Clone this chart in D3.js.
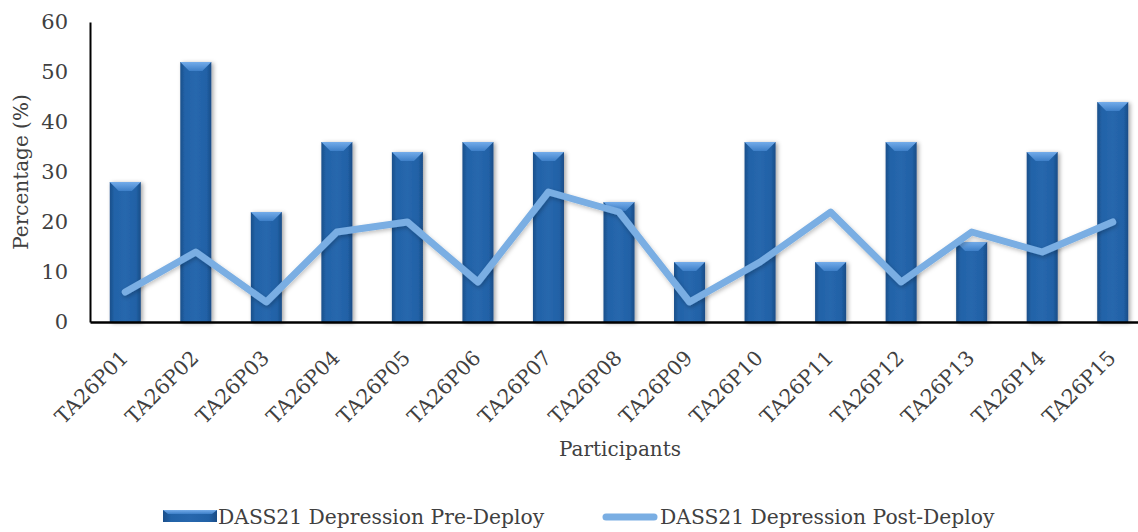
<!DOCTYPE html>
<html><head><meta charset="utf-8">
<script src="https://cdn.jsdelivr.net/npm/d3@7"></script>
<style>body{margin:0;background:#fff}svg{display:block}text{font-family:"DejaVu Serif",serif;fill:#404040}</style>
</head><body><svg id="c" width="1138" height="532"></svg>
<script>
const categories=["TA26P01","TA26P02","TA26P03","TA26P04","TA26P05","TA26P06","TA26P07","TA26P08","TA26P09","TA26P10","TA26P11","TA26P12","TA26P13","TA26P14","TA26P15"];
const preDeploy=[28,52,22,36,34,36,34,24,12,36,12,36,16,34,44];
const postDeploy=[6,14,4,18,20,8,26,22,4,12,22,8,18,14,20];
const yTicks=[0,10,20,30,40,50,60];
const seriesNames=["DASS21 Depression Pre-Deploy","DASS21 Depression Post-Deploy"];

const FONT="DejaVu Serif";
const svg=d3.select("#c");
const m={l:90,t:22,b:322,r:1148};
const x=d3.scaleBand().domain(categories).range([m.l,m.r]).paddingInner(0.56).paddingOuter(0.28);
const y=d3.scaleLinear().domain([0,60]).range([m.b,m.t]);

const defs=svg.append("defs");
const g=defs.append("linearGradient").attr("id","bar").attr("x1",0).attr("x2",1);
g.append("stop").attr("offset",0).attr("stop-color","#1b4f8a");
g.append("stop").attr("offset",0.15).attr("stop-color","#2263a8");
g.append("stop").attr("offset",0.5).attr("stop-color","#2767ad");
g.append("stop").attr("offset",0.85).attr("stop-color","#2161a6");
g.append("stop").attr("offset",1).attr("stop-color","#1a4c86");
const tg=defs.append("linearGradient").attr("id","bev").attr("x1",0).attr("x2",0).attr("y1",0).attr("y2",1);
tg.append("stop").attr("offset",0).attr("stop-color","#74acea");
tg.append("stop").attr("offset",1).attr("stop-color","#3d7fc8");
const f=defs.append("filter").attr("id","sh").attr("x","-30%").attr("y","-10%").attr("width","160%").attr("height","120%");
f.append("feDropShadow").attr("dx",2).attr("dy",1).attr("stdDeviation",2).attr("flood-color","#000").attr("flood-opacity",0.35);
const f2=defs.append("filter").attr("id","lsh").attr("x","-10%").attr("y","-30%").attr("width","120%").attr("height","160%");
f2.append("feDropShadow").attr("dx",1).attr("dy",2).attr("stdDeviation",2).attr("flood-color","#000").attr("flood-opacity",0.25);

// y axis
const ya=svg.append("g").attr("transform",`translate(${m.l},0)`).call(d3.axisLeft(y).tickValues(yTicks).tickSize(0).tickPadding(22));
ya.select(".domain").attr("stroke","#000").attr("stroke-width",2);
ya.selectAll("text").attr("font-size",21).style("fill","#404040").attr("font-family",FONT);

// bars
const bw=x.bandwidth();
const bars=svg.append("g").selectAll("g").data(categories).join("g").attr("filter","url(#sh)");
bars.append("rect").attr("x",d=>x(d)).attr("y",(d,i)=>y(preDeploy[i])).attr("width",bw).attr("height",(d,i)=>y(0)-y(preDeploy[i])).attr("fill","url(#bar)");
bars.append("path").attr("d",(d,i)=>{const x0=x(d),t=y(preDeploy[i]),h=9;return `M${x0},${t}L${x0+bw},${t}L${x0+bw-h},${t+h}L${x0+h},${t+h}Z`;}).attr("fill","url(#bev)");

// x axis
const xa=svg.append("g").attr("transform",`translate(0,${m.b})`).call(d3.axisBottom(x).tickSize(0).tickPadding(0));
xa.select(".domain").attr("stroke","#000").attr("stroke-width",2.5);
xa.selectAll("text").attr("font-size",20.5).attr("font-family",FONT).style("fill","#404040").attr("text-anchor","end").attr("y",0).attr("dy","0.7em").attr("transform","translate(-6,27) rotate(-45)");

// line
const line=d3.line().x((d,i)=>x(categories[i])+bw/2).y(d=>y(d));
svg.append("path").datum(postDeploy).attr("d",line).attr("fill","none").attr("stroke","#7aaee3").attr("stroke-width",7).attr("stroke-linejoin","round").attr("stroke-linecap","round").attr("filter","url(#lsh)");

// titles
svg.append("text").attr("transform","translate(28,172) rotate(-90)").attr("text-anchor","middle").attr("font-size",20).text("Percentage (%)");
svg.append("text").attr("x",620).attr("y",456).attr("text-anchor","middle").attr("font-size",20).text("Participants");

// legend
const lg=svg.append("g");
lg.append("rect").attr("x",163).attr("y",510).attr("width",54).attr("height",12).attr("fill","url(#bar)");
lg.append("path").attr("d","M163,510L217,510L212,514L168,514Z").attr("fill","url(#bev)");
lg.append("text").attr("x",218).attr("y",524).attr("font-size",20.3).text(seriesNames[0]);
lg.append("line").attr("x1",606).attr("x2",654).attr("y1",517).attr("y2",517).attr("stroke","#7aaee3").attr("stroke-width",7).attr("stroke-linecap","round");
lg.append("text").attr("x",660).attr("y",524).attr("font-size",20.3).text(seriesNames[1]);
</script></body></html>
